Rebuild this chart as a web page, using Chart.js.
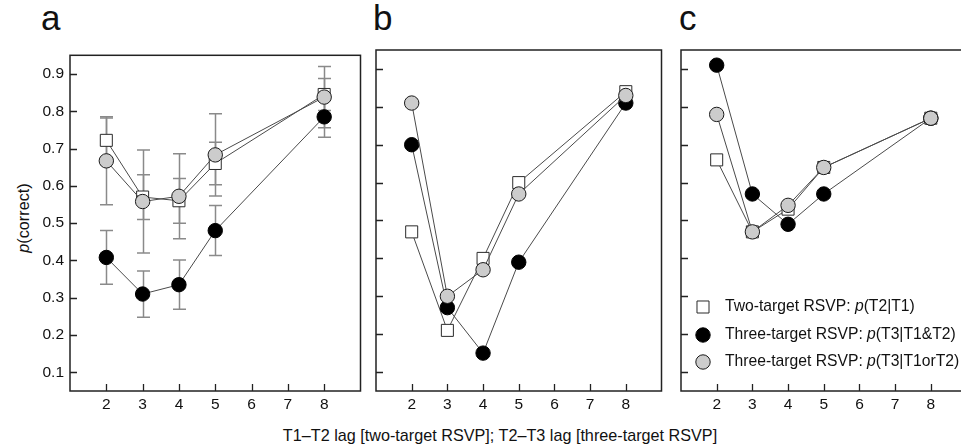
<!DOCTYPE html>
<html>
<head>
<meta charset="utf-8">
<script src="https://cdn.jsdelivr.net/npm/chart.js@4.4.1/dist/chart.umd.min.js"></script>
<style>
  html, body { margin:0; padding:0; background:#fff; }
  #wrap { position:relative; width:961px; height:448px; overflow:hidden; background:#fff;
          font-family:"Liberation Sans", Arial, Helvetica, sans-serif; color:#111; }
  .pane { position:absolute; }
  .letter { position:absolute; font-size:35px; line-height:35px; color:#111; }
  .title { position:absolute; white-space:nowrap; font-size:16.2px; line-height:1; color:#111; }
</style>
</head>
<body>
<div id="wrap">
  <div class="letter" style="left:41px;top:0px;">a</div>
  <div class="letter" style="left:373px;top:0px;">b</div>
  <div class="letter" style="left:679px;top:0px;">c</div>
  <div class="title" style="left:23px;top:218px;transform:translate(-50%,-50%) rotate(-90deg);"><i>p</i>(correct)</div>
  <div class="title" style="left:500px;top:435px;transform:translate(-50%,-50%);">T1–T2 lag [two-target RSVP]; T2–T3 lag [three-target RSVP]</div>
  <div class="pane" style="left:0px;top:40px;"><canvas id="ca" width="370" height="380"></canvas></div>
  <div class="pane" style="left:366px;top:40px;"><canvas id="cb" width="305" height="380"></canvas></div>
  <div class="pane" style="left:671px;top:40px;"><canvas id="cc" width="305" height="380"></canvas></div>
</div>
<script>
// ---------- data ----------
const lags = [2, 3, 4, 5, 8];
const xTicks = [2, 3, 4, 5, 6, 7, 8];
const yTicks = [0.1, 0.2, 0.3, 0.4, 0.5, 0.6, 0.7, 0.8, 0.9];

const seriesNames = ['Two-target RSVP: ', 'Three-target RSVP: ', 'Three-target RSVP: '];
const seriesProb  = ['(T2|T1)', '(T3|T1&T2)', '(T3|T1orT2)'];

// panel a
const twoA = [0.722, 0.570, 0.560, 0.660, 0.845];
const andA = [0.408, 0.310, 0.335, 0.480, 0.785];
const orA  = [0.667, 0.558, 0.572, 0.683, 0.838];
const errTwoA = [0.060, 0.060, 0.060, 0.057, 0.043];
const errAndA = [0.072, 0.062, 0.066, 0.067, 0.055];
const errOrA  = [0.118, 0.138, 0.114, 0.110, 0.082];

// panel b
const twoB = [0.47, 0.21, 0.40, 0.60, 0.84];
const andB = [0.70, 0.27, 0.15, 0.39, 0.81];
const orB  = [0.81, 0.30, 0.37, 0.57, 0.83];

// panel c
const twoC = [0.66, 0.47, 0.53, 0.64, 0.77];
const andC = [0.91, 0.57, 0.49, 0.57, 0.77];
const orC  = [0.78, 0.47, 0.54, 0.64, 0.77];

// ---------- styles ----------
const FONT = '"Liberation Sans", Arial, Helvetica, sans-serif';
const LINE = '#4a4a4a';
const styles = [
  { pointStyle:'rect',   radius:8.5, bg:'#ffffff', border:'#2a2a2a', order:2 },
  { pointStyle:'circle', radius:7.2, bg:'#000000', border:'#000000', order:1 },
  { pointStyle:'circle', radius:7.2, bg:'#cccccc', border:'#1a1a1a', order:0 }
];

const framePlugin = {
  id: 'frame',
  beforeDatasetsDraw(chart) {
    const { ctx, scales: { x, y } } = chart;
    ctx.save();
    ctx.strokeStyle = '#8a8a8a';
    ctx.lineWidth = 1.5;
    chart.data.datasets.forEach(ds => {
      if (!ds.err) return;
      ds.data.forEach((p, i) => {
        const e = ds.err[i];
        if (e == null) return;
        const px = Math.round(x.getPixelForValue(p.x)) + 0.5;
        const y1 = y.getPixelForValue(p.y - e);
        const y2 = y.getPixelForValue(p.y + e);
        ctx.beginPath();
        ctx.moveTo(px, y1); ctx.lineTo(px, y2);
        ctx.moveTo(px - 6.5, y1); ctx.lineTo(px + 6.5, y1);
        ctx.moveTo(px - 6.5, y2); ctx.lineTo(px + 6.5, y2);
        ctx.stroke();
      });
    });
    ctx.restore();
  },
  afterDraw(chart, args, opts) {
    const { ctx, chartArea: a, scales: { x, y } } = chart;
    ctx.save();
    ctx.strokeStyle = '#222';
    ctx.lineWidth = 1.5;
    ctx.strokeRect(a.left, a.top, a.right - a.left, a.bottom - a.top);
    ctx.lineWidth = 1.3;
    ctx.beginPath();
    y.ticks.forEach(t => {
      const py = Math.round(y.getPixelForValue(t.value)) + 0.5;
      ctx.moveTo(a.left, py); ctx.lineTo(a.left + 7, py);
    });
    x.ticks.forEach(t => {
      const px = Math.round(x.getPixelForValue(t.value)) + 0.5;
      ctx.moveTo(px, a.bottom); ctx.lineTo(px, a.bottom - 7);
    });
    ctx.stroke();

    if (opts.legend) {
      const rows = [84, 56, 29];
      const mx = a.left + 22, tx = a.left + 44;
      const fs = '15.7px ';
      chart.data.datasets.forEach((ds, i) => {
        const cy = a.bottom - rows[i];
        const st = styles[i];
        ctx.fillStyle = st.bg;
        ctx.strokeStyle = st.border;
        ctx.lineWidth = 1;
        Chart.helpers.drawPoint(ctx, { pointStyle: st.pointStyle, radius: st.radius, rotation: 0, borderWidth: 1 }, mx, cy);
        ctx.fillStyle = '#111';
        ctx.textBaseline = 'middle';
        ctx.textAlign = 'left';
        let cx = tx;
        ctx.font = fs + FONT;
        ctx.fillText(seriesNames[i], cx, cy);
        cx += ctx.measureText(seriesNames[i]).width;
        ctx.font = 'italic ' + fs + FONT;
        ctx.fillText('p', cx, cy);
        cx += ctx.measureText('p').width;
        ctx.font = fs + FONT;
        ctx.fillText(seriesProb[i], cx, cy);
      });
    }
    ctx.restore();
  }
};

function makePanel(id, vals, errs, yWidth, padRight, showY, legend) {
  const datasets = vals.map((v, i) => ({
    data: lags.map((l, k) => ({ x: l, y: v[k] })),
    err: errs ? errs[i] : null,
    borderColor: LINE,
    borderWidth: 1,
    pointStyle: styles[i].pointStyle,
    pointRadius: styles[i].radius,
    pointHoverRadius: styles[i].radius,
    pointBackgroundColor: styles[i].bg,
    pointBorderColor: styles[i].border,
    pointBorderWidth: 1,
    order: styles[i].order,
    tension: 0,
    fill: false
  }));
  new Chart(document.getElementById(id), {
    type: 'line',
    data: { datasets },
    plugins: [framePlugin],
    options: {
      responsive: false,
      animation: false,
      devicePixelRatio: 1,
      layout: { padding: { top: 10, right: padRight, left: 0, bottom: 0 } },
      plugins: { legend: { display: false }, tooltip: { enabled: false }, frame: { legend } },
      scales: {
        x: {
          type: 'linear', min: 1, max: 9,
          afterBuildTicks: s => { s.ticks = xTicks.map(v => ({ value: v })); },
          afterFit: s => { s.height = 29; },
          grid: { display: false, drawTicks: false },
          border: { display: false },
          ticks: { color: '#111', font: { family: FONT, size: 15.5 }, padding: 4, maxRotation: 0, autoSkip: false,
                   callback: v => String(v) }
        },
        y: {
          type: 'linear', min: 0.05, max: 0.95,
          afterBuildTicks: s => { s.ticks = yTicks.map(v => ({ value: v })); },
          afterFit: s => { s.width = yWidth; },
          grid: { display: false, drawTicks: false },
          border: { display: false },
          ticks: { display: showY, color: '#111', font: { family: FONT, size: 15.5 }, padding: 6,
                   callback: v => Number(v).toFixed(1) }
        }
      }
    }
  });
}

makePanel('ca', [twoA, andA, orA], [errTwoA, errAndA, errOrA], 70, 9, true, false);
makePanel('cb', [twoB, andB, orB], null, 10, 4, false, false);
makePanel('cc', [twoC, andC, orC], null, 10, 6, false, true);
</script>
</body>
</html>
